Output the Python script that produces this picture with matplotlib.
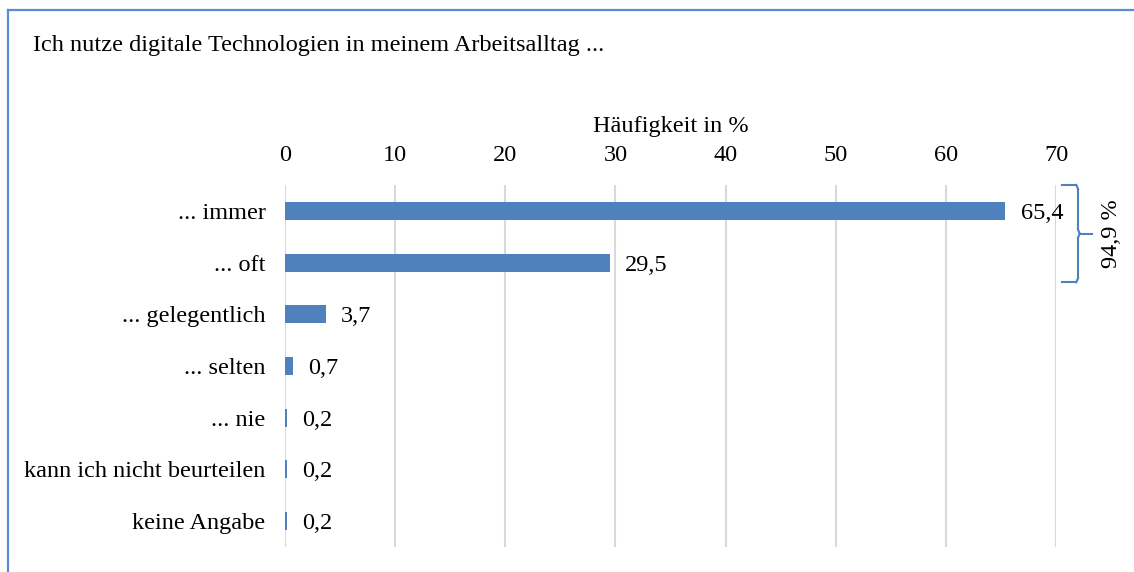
import matplotlib
matplotlib.use("Agg")
import matplotlib.pyplot as plt
from matplotlib.lines import Line2D

categories = ["... immer", "... oft", "... gelegentlich", "... selten", "... nie",
              "kann ich nicht beurteilen", "keine Angabe"]
values = [65.4, 29.5, 3.7, 0.7, 0.2, 0.2, 0.2]
value_labels = ["65,4", "29,5", "3,7", "0,7", "0,2", "0,2", "0,2"]
xticks = [0, 10, 20, 30, 40, 50, 60, 70]
title = "Ich nutze digitale Technologien in meinem Arbeitsalltag ..."
xlabel = "Häufigkeit in %"
brace_label = "94,9 %"

plt.rcParams['font.family'] = ['Liberation Serif', 'DejaVu Serif']
FS = 17.5
BLUE = "#4F81BD"

W, H = 1134, 572
fig = plt.figure(figsize=(W / 100, H / 100), dpi=100)
ax = fig.add_axes([285 / W, 1 - 547 / H, (1056 - 285) / W, (547 - 185) / H])

y = list(range(len(categories)))
ax.barh(y, values, height=0.35, color=BLUE, zorder=3)
ax.set_ylim(len(categories) - 0.5, -0.5)
ax.set_xlim(0, 70)
ax.set_yticks(y)
ax.set_yticklabels(categories, fontsize=FS)
ax.set_xticks(xticks)
ax.set_xticklabels([str(t) for t in xticks], fontsize=FS)
ax.xaxis.tick_top()
ax.xaxis.set_label_position("top")
ax.set_xlabel(xlabel, fontsize=FS, labelpad=9.5)
ax.tick_params(axis="both", length=0)
ax.tick_params(axis="x", pad=13.7)
ax.tick_params(axis="y", pad=14)
for s in ax.spines.values():
    s.set_visible(False)
ax.grid(axis="x", color="#D9D9D9", linewidth=1.5, zorder=0)
ax.set_axisbelow(True)

for yi, v, lab in zip(y, values, value_labels):
    ax.annotate(lab, xy=(v, yi), xytext=(11, 0), textcoords="offset points",
                va="center_baseline", ha="left", fontsize=FS)

# brace
x0, x1, x2 = 70.5, 72.0, 73.3
yt, yb = -0.5, 1.38
ym = (yt + yb) / 2
kw = dict(color=BLUE, lw=1.5, clip_on=False)
ax.plot([x0, x1 - 0.15], [yt, yt], **kw)
ax.plot([x1 - 0.15, x1], [yt, yt + 0.08], **kw)
ax.plot([x1, x1], [yt + 0.08, ym - 0.08], **kw)
ax.plot([x1, x1 + 0.15], [ym - 0.08, ym], **kw)
ax.plot([x1 + 0.15, x2], [ym, ym], **kw)
ax.plot([x1, x1 + 0.15], [ym + 0.08, ym], **kw)
ax.plot([x1, x1], [ym + 0.08, yb - 0.08], **kw)
ax.plot([x1, x1 - 0.15], [yb - 0.08, yb], **kw)
ax.plot([x1 - 0.15, x0], [yb, yb], **kw)
ax.text(75.0, ym, brace_label, rotation=90, va="center", ha="center", fontsize=FS,
        clip_on=False)

# title
fig.text(33 / W, 1 - 46 / H, title, fontsize=FS, ha="left", va="center")

# border (top and left)
fig.add_artist(Line2D([8 / W, 1.0], [1 - 10 / H, 1 - 10 / H], color="#5B8CD0", lw=1.6,
                      transform=fig.transFigure))
fig.add_artist(Line2D([8 / W, 8 / W], [1 - 10 / H, 0.0], color="#5B8CD0", lw=1.6,
                      transform=fig.transFigure))

fig.savefig("out.png", dpi=100)
